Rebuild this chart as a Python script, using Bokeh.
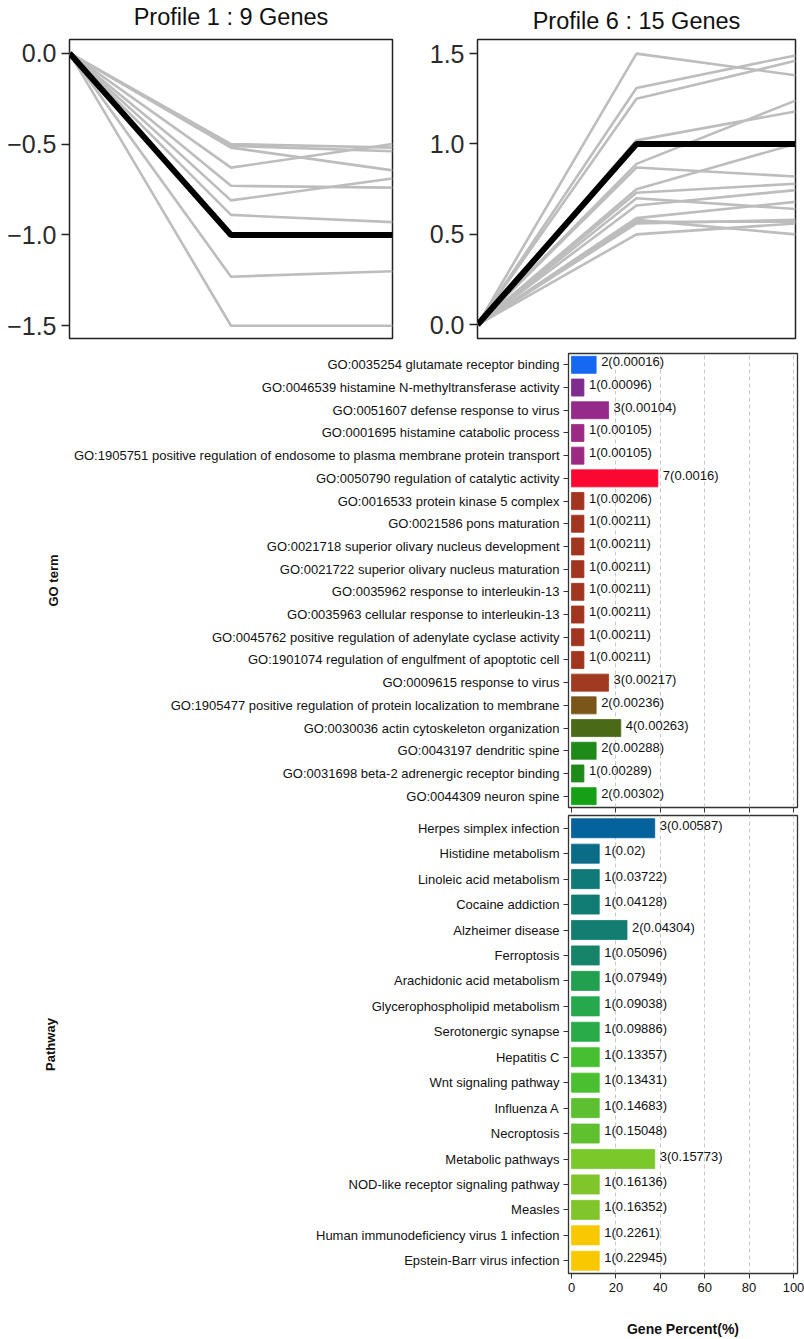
from bokeh.plotting import figure
from bokeh.models import (FixedTicker, CustomJSTickFormatter, Range1d,
                          ColumnDataSource, LinearAxis)
from bokeh.layouts import column, row
from bokeh.core.properties import value
from bokeh.embed import file_html
from bokeh.resources import INLINE

FONT = "Liberation Sans"

# ---------------- data ----------------
time_points = [0, 1, 2]

profile1_title = "Profile 1 : 9 Genes"
profile1_genes = [
    [0, -0.50, -0.52],
    [0, -0.52, -0.645],
    [0, -0.51, -0.54],
    [0, -0.63, -0.50],
    [0, -0.73, -0.74],
    [0, -0.81, -0.69],
    [0, -0.89, -0.93],
    [0, -1.23, -1.20],
    [0, -1.50, -1.50],
]
profile1_model = [0, -1.0, -1.0]
profile1_ticks = [0.0, -0.5, -1.0, -1.5]

profile6_title = "Profile 6 : 15 Genes"
profile6_genes = [
    [0, 1.50, 1.38],
    [0, 1.31, 1.49],
    [0, 1.25, 1.46],
    [0, 1.02, 1.18],
    [0, 0.89, 1.24],
    [0, 0.87, 0.82],
    [0, 0.75, 1.00],
    [0, 0.73, 0.78],
    [0, 0.70, 0.64],
    [0, 0.66, 0.745],
    [0, 0.59, 0.68],
    [0, 0.57, 0.57],
    [0, 0.58, 0.50],
    [0, 0.56, 0.58],
    [0, 0.50, 0.56],
]
profile6_model = [0, 1.0, 1.0]
profile6_ticks = [0.0, 0.5, 1.0, 1.5]

go_terms = [
    "GO:0035254 glutamate receptor binding",
    "GO:0046539 histamine N-methyltransferase activity",
    "GO:0051607 defense response to virus",
    "GO:0001695 histamine catabolic process",
    "GO:1905751 positive regulation of endosome to plasma membrane protein transport",
    "GO:0050790 regulation of catalytic activity",
    "GO:0016533 protein kinase 5 complex",
    "GO:0021586 pons maturation",
    "GO:0021718 superior olivary nucleus development",
    "GO:0021722 superior olivary nucleus maturation",
    "GO:0035962 response to interleukin-13",
    "GO:0035963 cellular response to interleukin-13",
    "GO:0045762 positive regulation of adenylate cyclase activity",
    "GO:1901074 regulation of engulfment of apoptotic cell",
    "GO:0009615 response to virus",
    "GO:1905477 positive regulation of protein localization to membrane",
    "GO:0030036 actin cytoskeleton organization",
    "GO:0043197 dendritic spine",
    "GO:0031698 beta-2 adrenergic receptor binding",
    "GO:0044309 neuron spine",
]
go_counts = [2, 1, 3, 1, 1, 7, 1, 1, 1, 1, 1, 1, 1, 1, 3, 2, 4, 2, 1, 2]
go_pvalues = ["0.00016", "0.00096", "0.00104", "0.00105", "0.00105", "0.0016",
              "0.00206", "0.00211", "0.00211", "0.00211", "0.00211", "0.00211",
              "0.00211", "0.00211", "0.00217", "0.00236", "0.00263", "0.00288",
              "0.00289", "0.00302"]
go_percent = [11.1, 5.6, 16.7, 5.6, 5.6, 38.9, 5.6, 5.6, 5.6, 5.6, 5.6, 5.6,
              5.6, 5.6, 16.7, 11.1, 22.2, 11.1, 5.6, 11.1]

pathways = [
    "Herpes simplex infection",
    "Histidine metabolism",
    "Linoleic acid metabolism",
    "Cocaine addiction",
    "Alzheimer disease",
    "Ferroptosis",
    "Arachidonic acid metabolism",
    "Glycerophospholipid metabolism",
    "Serotonergic synapse",
    "Hepatitis C",
    "Wnt signaling pathway",
    "Influenza A",
    "Necroptosis",
    "Metabolic pathways",
    "NOD-like receptor signaling pathway",
    "Measles",
    "Human immunodeficiency virus 1 infection",
    "Epstein-Barr virus infection",
]
path_counts = [3, 1, 1, 1, 2, 1, 1, 1, 1, 1, 1, 1, 1, 3, 1, 1, 1, 1]
path_pvalues = ["0.00587", "0.02", "0.03722", "0.04128", "0.04304", "0.05096",
                "0.07949", "0.09038", "0.09886", "0.13357", "0.13431", "0.14683",
                "0.15048", "0.15773", "0.16136", "0.16352", "0.2261", "0.22945"]
path_percent = [37.5, 12.5, 12.5, 12.5, 25.0, 12.5, 12.5, 12.5, 12.5, 12.5,
                12.5, 12.5, 12.5, 37.5, 12.5, 12.5, 12.5, 12.5]

x_ticks = [0, 20, 40, 60, 80, 100]

# ---------------- styles ----------------
go_colors = ["#1468f2", "#7e2d8e", "#952a88", "#9a2a82", "#9b2a80", "#fb0832",
             "#a2351f", "#a2351f", "#a2351f", "#a2351f", "#a2351f", "#a2351f",
             "#a2351f", "#a2351f", "#a03a20", "#7a561a", "#4b6a18", "#1f8a18",
             "#1e8a1a", "#15a015"]
path_colors = ["#04629c", "#0b6c88", "#0f7a78", "#107c74", "#127d70", "#168468",
               "#22a050", "#26a84c", "#28ab48", "#46c030", "#4ac030", "#5cc030",
               "#60c030", "#7ac82a", "#80c52a", "#80c52a", "#f8c800", "#f8c800"]


def profile_fig(title, genes, model, ticks, yr, width, bl, br, bt, bb,
                title_gap):
    p = figure(width=width, height=350, x_range=Range1d(0, 2),
               y_range=Range1d(*yr), output_backend="svg",
               toolbar_location=None,
               min_border_left=bl, min_border_right=br,
               min_border_top=bt, min_border_bottom=bb)
    # title drawn as the label of an empty axis above the frame
    top = LinearAxis(ticker=FixedTicker(ticks=[]), axis_label=title,
                     axis_line_color=None, major_tick_out=0, major_tick_in=0,
                     minor_tick_out=0, minor_tick_in=0,
                     major_label_standoff=0, axis_label_standoff=title_gap,
                     axis_label_text_font=FONT,
                     axis_label_text_font_size="23.5px",
                     axis_label_text_font_style="normal",
                     axis_label_text_color="#111111")
    p.add_layout(top, "above")
    p.multi_line(xs=[time_points] * len(genes), ys=genes,
                 line_color="#bdbdbd", line_width=2.6)
    p.line(time_points, model, line_color="black", line_width=6)
    p.below[0].visible = False
    p.xgrid.visible = False
    p.ygrid.visible = False
    ax = p.yaxis[0]
    ax.ticker = FixedTicker(ticks=ticks)
    ax.formatter = CustomJSTickFormatter(
        code="return (tick < 0 ? '\u2212' : '') + Math.abs(tick).toFixed(1);")
    ax.axis_line_color = None
    ax.major_tick_out = 8
    ax.major_tick_in = 0
    ax.minor_tick_out = 0
    ax.minor_tick_in = 0
    ax.major_tick_line_color = "#222222"
    ax.major_tick_line_width = 1.5
    ax.major_label_standoff = 5
    ax.major_label_text_font = FONT
    ax.major_label_text_font_size = "25px"
    ax.major_label_text_color = "#2b2b2b"
    p.outline_line_color = "#222222"
    p.outline_line_width = 1.5
    return p


def bar_fig(names, counts, pvals, pct, colors, height, bt, bb, side_text,
            side_standoff, show_labels):
    n = len(names)
    ypos = [n - 1 - i for i in range(n)]
    p = figure(width=804, height=height, x_range=Range1d(-1.35, 101.8),
               y_range=Range1d(-0.5, n - 0.5), output_backend="svg",
               toolbar_location=None, min_border_left=568,
               min_border_right=7, min_border_top=bt, min_border_bottom=bb)
    src = ColumnDataSource(dict(
        y=ypos, right=pct, color=colors,
        label=[f"{c}({v})" for c, v in zip(counts, pvals)]))
    p.hbar(y="y", left=0, right="right", height=0.75, fill_color="color",
           line_color="color", line_alpha=0.8, source=src)
    p.text(x="right", y="y", text="label", x_offset=5, y_offset=-3,
           text_baseline="middle", text_align="left",
           text_font=value(FONT), text_font_size="13px",
           text_color="#111111", source=src)
    ya = p.yaxis[0]
    ya.ticker = FixedTicker(ticks=ypos)
    ya.major_label_overrides = {y: nm for y, nm in zip(ypos, names)}
    ya.axis_line_color = None
    ya.major_tick_out = 5
    ya.major_tick_in = 0
    ya.minor_tick_out = 0
    ya.minor_tick_in = 0
    ya.major_tick_line_color = "#333333"
    ya.major_label_standoff = 4
    ya.major_label_text_font = FONT
    ya.major_label_text_font_size = "13px"
    ya.major_label_text_color = "#111111"
    ya.axis_label = side_text
    ya.axis_label_standoff = side_standoff
    ya.axis_label_text_font = FONT
    ya.axis_label_text_font_size = "13px"
    ya.axis_label_text_font_style = "bold"
    ya.axis_label_text_color = "#111111"
    xa = p.xaxis[0]
    xa.ticker = FixedTicker(ticks=x_ticks)
    xa.axis_line_color = None
    xa.major_tick_out = 5
    xa.major_tick_in = 0
    xa.minor_tick_out = 0
    xa.minor_tick_in = 0
    xa.major_tick_line_color = "#333333"
    xa.major_label_text_font = FONT
    if show_labels:
        xa.major_label_standoff = 4
        xa.major_label_text_font_size = "13px"
        xa.major_label_text_color = "#111111"
        xa.axis_label = "Gene Percent(%)"
        xa.axis_label_standoff = 26
        xa.axis_label_text_font = FONT
        xa.axis_label_text_font_size = "14px"
        xa.axis_label_text_font_style = "bold"
        xa.axis_label_text_color = "#111111"
    else:
        xa.major_label_standoff = 0
        xa.major_label_overrides = {t: "" for t in x_ticks}
        xa.major_label_text_font_size = "1px"
    p.xgrid.ticker = FixedTicker(ticks=x_ticks[1:])
    p.xgrid.grid_line_color = "#c8c8c8"
    p.xgrid.grid_line_dash = "4 3"
    p.xgrid.grid_line_width = 1
    p.ygrid.visible = False
    p.outline_line_color = "#333333"
    p.outline_line_width = 1.3
    return p


p1 = profile_fig(profile1_title, profile1_genes, profile1_model,
                 profile1_ticks, (-1.57, 0.075), 420, 69, 28, 37, 7, 10)
p6 = profile_fig(profile6_title, profile6_genes, profile6_model,
                 profile6_ticks, (-0.076, 1.578), 384, 57, 9, 33, 12, 6)

p_go = bar_fig(go_terms, go_counts, go_pvalues, go_percent, go_colors,
               464, 3, 7, "GO term", 10, False)
p_path = bar_fig(pathways, path_counts, path_pvalues, path_percent,
                 path_colors, 525, 1, 65, "Pathway", 255, True)

layout = column(row(p1, p6), p_go, p_path)

with open("out.html", "w") as f:
    f.write(file_html(layout, INLINE))
